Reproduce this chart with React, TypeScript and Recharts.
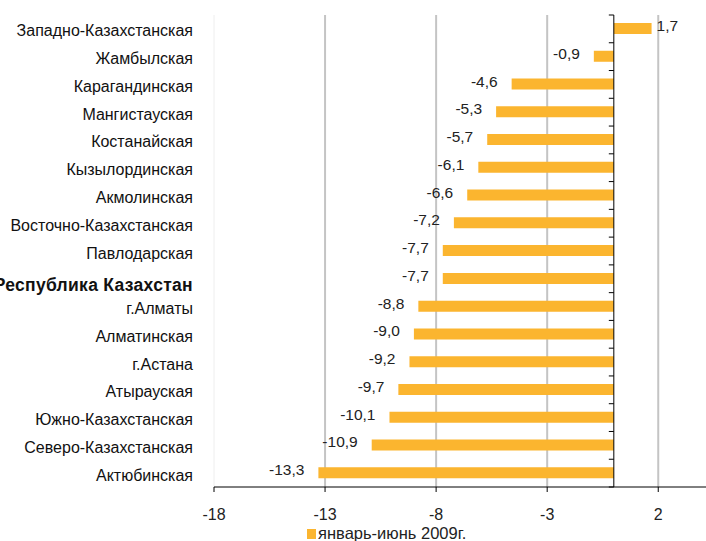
import React from "react";
import {
  BarChart,
  Bar,
  XAxis,
  YAxis,
  CartesianGrid,
  ReferenceLine,
  LabelList,
  Legend,
} from "recharts";

const regions = [
  "Западно-Казахстанская",
  "Жамбылская",
  "Карагандинская",
  "Мангистауская",
  "Костанайская",
  "Кызылординская",
  "Акмолинская",
  "Восточно-Казахстанская",
  "Павлодарская",
  "Республика Казахстан",
  "г.Алматы",
  "Алматинская",
  "г.Астана",
  "Атырауская",
  "Южно-Казахстанская",
  "Северо-Казахстанская",
  "Актюбинская",
];

const growth = [1.7, -0.9, -4.6, -5.3, -5.7, -6.1, -6.6, -7.2, -7.7, -7.7, -8.8, -9.0, -9.2, -9.7, -10.1, -10.9, -13.3];

const xTicks = [-18, -13, -8, -3, 2];
const seriesName = "январь-июнь 2009г.";
const totalRow = "Республика Казахстан";

const FONT = '"Liberation Sans", Arial, sans-serif';
const BAR_COLOR = "#FBB52F";

const W = 706;
const H = 541;
const PLOT_TOP = 15;
const PLOT_BOTTOM = 487;
const AXIS_W = 214;
const X_MIN = -18;
const X_MAX = 4.15;
const ZERO_X = AXIS_W + ((0 - X_MIN) / (X_MAX - X_MIN)) * (W - AXIS_W);
const BAND = (PLOT_BOTTOM - PLOT_TOP) / regions.length;

const data = regions.map((name, i) => ({ name, value: growth[i] }));

const fmt = (v: number) => v.toFixed(1).replace(".", ",");

function CategoryTick(props: any) {
  const { y, payload, index } = props;
  const bold = payload.value === totalRow;
  const last = index === regions.length - 1;
  return (
    <g>
      <text
        x={193}
        y={y + (bold ? 6 : 2)}
        textAnchor="end"
        dominantBaseline="central"
        fontFamily={FONT}
        fontSize={bold ? 17.5 : 16}
        fontWeight={bold ? "bold" : "normal"}
        letterSpacing={bold ? 0.3 : 0}
        fill="#111"
      >
        {payload.value}
      </text>
      <line x1={ZERO_X - 5} x2={ZERO_X} y1={y - BAND / 2} y2={y - BAND / 2} stroke="#000" />
      {last && <line x1={ZERO_X - 5} x2={ZERO_X} y1={y + BAND / 2} y2={y + BAND / 2} stroke="#000" />}
    </g>
  );
}

function ValueLabel(props: any) {
  const { x, y, width, height, value } = props;
  const v = Number(value);
  const cy = y + height / 2 - 3;
  if (v >= 0) {
    return (
      <text x={x + width + 5} y={cy} dominantBaseline="central" fontFamily={FONT} fontSize={15.5} fill="#222">
        {fmt(v)}
      </text>
    );
  }
  const end = x + width;
  return (
    <text x={end - 14} y={cy} textAnchor="end" dominantBaseline="central" fontFamily={FONT} fontSize={15.5} fill="#222">
      {fmt(v)}
    </text>
  );
}

function LegendBox() {
  return (
    <div
      style={{
        display: "flex",
        alignItems: "baseline",
        fontFamily: FONT,
        fontSize: 16.5,
        lineHeight: "18px",
        color: "#222",
        whiteSpace: "nowrap",
      }}
    >
      <span style={{ display: "inline-block", width: 9, height: 10, background: BAR_COLOR, marginRight: 2 }} />
      <span>{seriesName}</span>
    </div>
  );
}

export default function App() {
  return (
    <div style={{ position: "absolute", left: 0, top: 0, width: W, height: H, background: "#fff", overflow: "hidden" }}>
      <BarChart
        width={W}
        height={H}
        data={data}
        layout="vertical"
        margin={{ top: PLOT_TOP, right: 0, bottom: 0, left: 0 }}
        barSize={11}
      >
        <CartesianGrid horizontal={false} verticalValues={[-13, -8, -3, 2]} stroke="#c4c4c4" strokeWidth={2} />
        <ReferenceLine x={-18} stroke="#eeeeee" />
        <XAxis
          type="number"
          domain={[X_MIN, X_MAX]}
          ticks={xTicks}
          allowDataOverflow
          height={H - PLOT_BOTTOM}
          axisLine={{ stroke: "#000" }}
          tickLine={{ stroke: "#000" }}
          tickSize={5}
          tickMargin={17}
          tick={{ fontFamily: FONT, fontSize: 16, fill: "#222" }}
          tickFormatter={(v: number) => String(v)}
        />
        <YAxis
          type="category"
          dataKey="name"
          width={AXIS_W}
          axisLine={false}
          tickLine={false}
          interval={0}
          tick={<CategoryTick />}
        />
        <Legend
          layout="horizontal"
          verticalAlign="middle"
          align="center"
          content={<LegendBox />}
          wrapperStyle={{ left: 307, top: 524, width: 240, height: 18 }}
        />
        <Bar dataKey="value" name={seriesName} fill={BAR_COLOR} isAnimationActive={false}>
          <LabelList dataKey="value" content={<ValueLabel />} />
        </Bar>
        <ReferenceLine x={0} stroke="#000" />
      </BarChart>
    </div>
  );
}
